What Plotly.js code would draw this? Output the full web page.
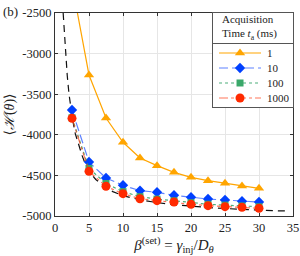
<!DOCTYPE html>
<html>
<head>
<meta charset="utf-8">
<script src="https://cdn.plot.ly/plotly-3.0.1.min.js"></script>
<style>html,body{margin:0;padding:0;background:#fff;}#plot{width:300px;height:256px;}</style>
</head>
<body>
<div id="plot"></div>
<script>
const beta = [2.5, 5, 7.5, 10, 12.5, 15, 17.5, 20, 22.5, 25, 27.5, 30];
const h1 = [-2140, -3263, -3793, -4092, -4286, -4380, -4462, -4524, -4565, -4598, -4631, -4659];
const h10 = [-3695, -4335, -4532, -4622, -4688, -4708, -4745, -4770, -4791, -4803, -4819, -4828];
const h100 = [-3790, -4415, -4600, -4700, -4762, -4792, -4812, -4836, -4855, -4866, -4876, -4886];
const h1000 = [-3797, -4450, -4635, -4725, -4787, -4811, -4828, -4856, -4873, -4885, -4893, -4905];
const betaTheory = [1.2, 1.4, 1.57, 1.8, 2.06, 2.3, 2.6, 3, 3.5, 4, 4.5, 5, 6, 7, 7.5, 8.5, 10, 12.5, 15, 17.5, 20, 22.5, 25, 27.5, 30, 32, 34];
const hTheory = [-2500, -2800, -3000, -3270, -3500, -3650, -3820, -3990, -4140, -4260, -4370, -4450, -4550, -4620, -4650, -4700, -4750, -4800, -4835, -4860, -4880, -4895, -4908, -4920, -4930, -4935, -4938];
const legendNames = ['1', '10', '100', '1000'];
const legendTitle = 'Acquisition<br>Time <i>t</i><sub>a</sub> (ms)';
const tickY = [-5000, -4500, -4000, -3500, -3000, -2500];
const tickYText = ['-5000', '-4500', '-4000', '-3500', '-3000', '-2500'];
const tickX = [0, 5, 10, 15, 20, 25, 30, 35];

const serif = "'Liberation Serif', 'DejaVu Serif', serif";
const ink = '#222';

const styles = [
  {line: {color: '#ffa500', width: 1.2}, marker: {symbol: 'triangle-up', size: 9, color: '#ffa500'}},
  {line: {color: 'rgba(40,90,255,0.75)', width: 1.2, dash: '9px,4px'}, marker: {symbol: 'diamond', size: 8, color: '#0040ff'}},
  {line: {color: 'rgba(46,160,100,0.85)', width: 1.2, dash: 'dot'}, marker: {symbol: 'square', size: 7, color: '#3aa86a'}},
  {line: {color: 'rgba(255,60,20,0.7)', width: 1.2, dash: 'dashdot'}, marker: {symbol: 'circle', size: 9, color: '#ff2a00'}}
];
const series = [h1, h10, h100, h1000];

const traces = [
  {x: betaTheory, y: hTheory, mode: 'lines', showlegend: false,
   line: {color: '#111', width: 1.2, dash: '7px,5px'}, hoverinfo: 'skip'}
];
series.forEach((s, i) => {
  traces.push({x: beta, y: s, mode: 'lines+markers', name: legendNames[i], showlegend: false,
    line: styles[i].line, marker: styles[i].marker});
});

// legend inset (local pixel-like coordinates: x 0..80, y 0..94 from top)
const legRowY = [40, 55, 70, 85];
legendNames.forEach((n, i) => {
  traces.push({x: [6, 48], y: [legRowY[i], legRowY[i]], xaxis: 'x2', yaxis: 'y2', mode: 'lines',
    showlegend: false, hoverinfo: 'skip', line: styles[i].line});
  traces.push({x: [27], y: [legRowY[i]], xaxis: 'x2', yaxis: 'y2', mode: 'markers',
    showlegend: false, hoverinfo: 'skip', marker: styles[i].marker});
});
traces.push({x: [0, 80], y: [30.5, 30.5], xaxis: 'x2', yaxis: 'y2', mode: 'lines',
  showlegend: false, hoverinfo: 'skip', line: {color: '#555', width: 1}});

const annotations = [
  {text: '(b)', xref: 'paper', yref: 'paper', x: -0.228, y: 1.055, xanchor: 'left', yanchor: 'top',
   showarrow: false, font: {family: serif, size: 13, color: ink}},
  {text: legendTitle, xref: 'x2', yref: 'y2', x: 7, y: 14, xanchor: 'left', yanchor: 'middle', align: 'left',
   showarrow: false, font: {family: serif, size: 11, color: ink}}
];
legendNames.forEach((n, i) => {
  annotations.push({text: n, xref: 'x2', yref: 'y2', x: 52, y: legRowY[i], xanchor: 'left', yanchor: 'middle',
    showarrow: false, font: {family: serif, size: 11, color: ink}});
});

const layout = {
  width: 300, height: 256,
  margin: {l: 55, r: 7, t: 13, b: 40},
  paper_bgcolor: '#fff', plot_bgcolor: '#fff',
  font: {family: serif, size: 12, color: ink},
  showlegend: false,
  xaxis: {
    range: [0, 35], tickvals: tickX, domain: [0, 1],
    showgrid: true, gridcolor: '#e6e6e6', gridwidth: 1,
    zeroline: false, showline: true, linecolor: '#333', linewidth: 1, mirror: 'ticks',
    ticks: 'inside', ticklen: 3, tickcolor: '#333',
    tickfont: {family: serif, size: 12.5, color: ink},
    title: {text: '<i>β</i><sup>(set)</sup> = <i>γ</i><sub>inj</sub>/<i>D</i><sub><i>θ</i></sub>',
            font: {family: serif, size: 15, color: ink}, standoff: 2}
  },
  yaxis: {
    range: [-5000, -2500], tickvals: tickY, ticktext: tickYText, domain: [0, 1],
    showgrid: true, gridcolor: '#e6e6e6', gridwidth: 1,
    zeroline: false, showline: true, linecolor: '#333', linewidth: 1, mirror: 'ticks',
    ticks: 'inside', ticklen: 3, tickcolor: '#333',
    tickfont: {family: serif, size: 12.5, color: ink},
    title: {text: '⟨<i>ℋ</i>(<i>θ</i>)⟩', font: {family: serif, size: 14, color: ink}, standoff: 4}
  },
  xaxis2: {
    domain: [0.664, 1], range: [0, 80], anchor: 'y2',
    showgrid: false, zeroline: false, showticklabels: false, ticks: '',
    showline: true, mirror: true, linecolor: '#555', linewidth: 1
  },
  yaxis2: {
    domain: [0.537, 1], range: [94, 0], anchor: 'x2',
    showgrid: false, zeroline: false, showticklabels: false, ticks: '',
    showline: true, mirror: true, linecolor: '#555', linewidth: 1
  },
  annotations: annotations
};

Plotly.newPlot('plot', traces, layout, {displayModeBar: false, staticPlot: true});
</script>
</body>
</html>
